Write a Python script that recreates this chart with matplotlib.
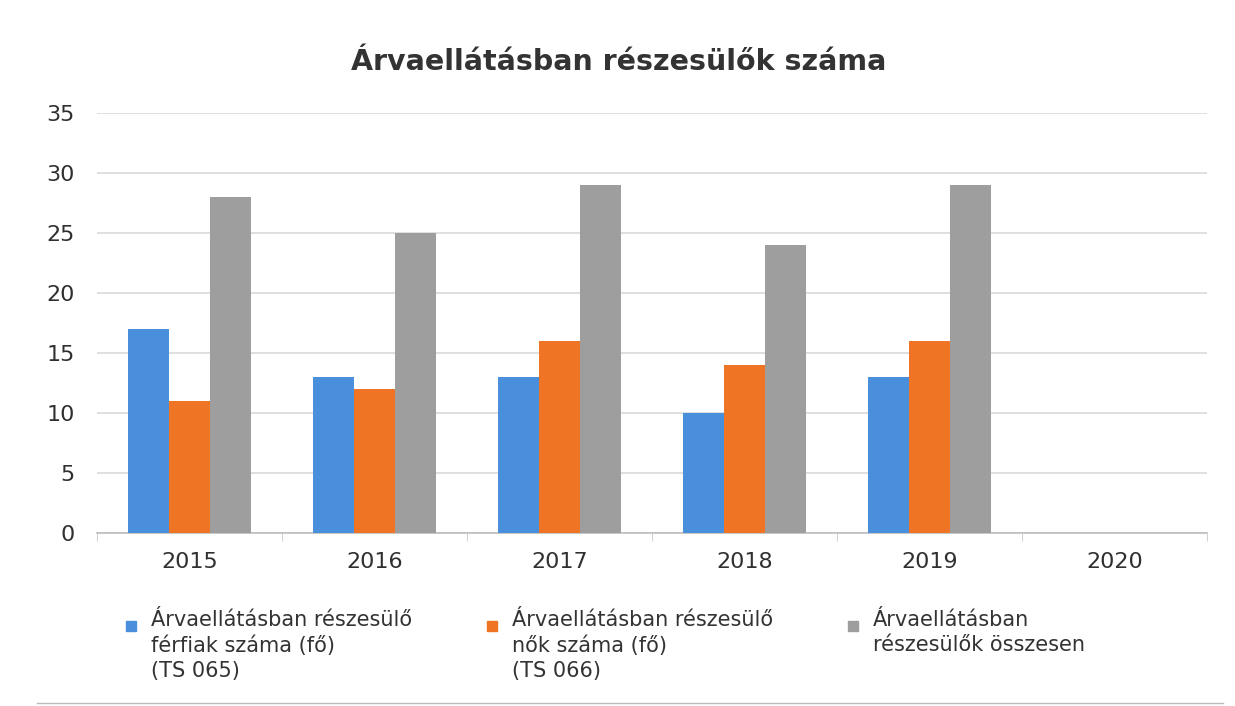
import numpy as np
import matplotlib.pyplot as plt
from matplotlib.patches import Rectangle

years = ["2015", "2016", "2017", "2018", "2019", "2020"]
ferfiak = [17, 13, 13, 10, 13, 0]
nok = [11, 12, 16, 14, 16, 0]
osszesen = [28, 25, 29, 24, 29, 0]
labels = ["Árvaellátásban részesülő\nférfiak száma (fő)\n(TS 065)",
          "Árvaellátásban részesülő\nnők száma (fő)\n(TS 066)",
          "Árvaellátásban\nrészesülők összesen"]
colors = ["#4a8fdc", "#ef7424", "#9e9e9e"]

fig = plt.figure(figsize=(12.35, 7.06), dpi=100)
ax = fig.add_axes([0.0785, 0.245, 0.8987, 0.595])

x = np.arange(len(years))
w = 0.222
series = [ferfiak, nok, osszesen]
for i, vals in enumerate(series):
    # 2020 has no data, so leave zero bars out
    vals = np.array(vals, dtype=float)
    mask = vals > 0
    ax.bar(x[mask] + (i - 1) * w, vals[mask], width=w, color=colors[i], zorder=3)

ax.set_xlim(-0.5, len(years) - 0.5)
ax.set_ylim(0, 35)
ax.set_yticks(range(0, 36, 5))
ax.yaxis.grid(True, color="#d9d9d9", linewidth=1.2, zorder=0)
ax.set_xticks(x)
ax.set_xticklabels(years)
ax.set_xticks(np.arange(-0.5, len(years)), minor=True)
ax.tick_params(axis="x", which="major", length=0, pad=14, labelsize=16, labelcolor="#303030")
ax.tick_params(axis="x", which="minor", length=6, color="#c8c8c8")
ax.tick_params(axis="y", length=0, pad=16, labelsize=16, labelcolor="#303030")
for s in ["top", "right", "left"]:
    ax.spines[s].set_visible(False)
ax.spines["bottom"].set_color("#bdbdbd")
ax.spines["bottom"].set_linewidth(1.2)

fig.text(0.501, 0.912, "Árvaellátásban részesülők száma", ha="center", va="center",
         fontsize=20.5, fontweight="bold", color="#333333")

# legend drawn by hand so the squares sit on the first line
lx = [126, 487, 848]
for i, lab in enumerate(labels):
    fig.patches.append(Rectangle((lx[i] / 1235, 1 - 631 / 706), 10 / 1235, 10 / 706,
                                 transform=fig.transFigure, color=colors[i]))
    fig.text((lx[i] + 25) / 1235, 1 - 610 / 706, lab, ha="left", va="top",
             fontsize=15, color="#333333", linespacing=1.32)

fig.add_artist(plt.Line2D([0.03, 0.99], [0.004, 0.004], color="#bbbbbb", linewidth=1,
                          transform=fig.transFigure))

fig.savefig("out.png", dpi=100)
